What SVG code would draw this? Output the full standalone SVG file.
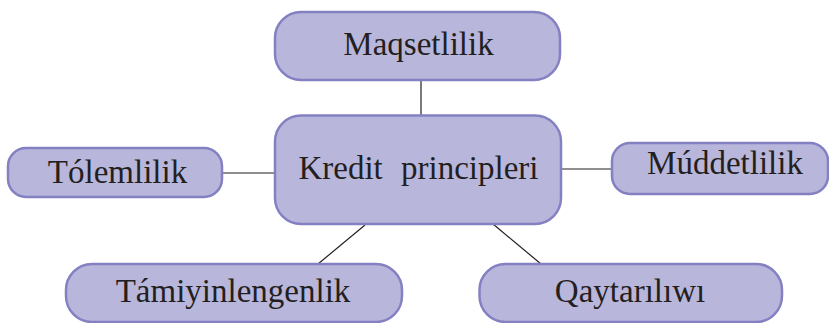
<svg xmlns="http://www.w3.org/2000/svg" width="829" height="323" viewBox="0 0 829 323">
<style>
.box{fill:#b9b6db;stroke:#8481c3;stroke-width:2.5}
.lbl{font-family:"Liberation Serif","Times New Roman",serif;font-size:33px;fill:#231f20;text-anchor:middle}
.edge{stroke:#231f20;stroke-width:1.2;fill:none}
</style>
<rect width="829" height="323" fill="#ffffff"/>
<g id="connectors">
<line class="edge" x1="421" y1="80" x2="421" y2="116"/>
<line class="edge" x1="222" y1="173" x2="276" y2="173"/>
<line class="edge" x1="560" y1="169" x2="613" y2="169"/>
<line class="edge" x1="365" y1="225" x2="318" y2="264"/>
<line class="edge" x1="493" y1="224" x2="541" y2="264"/>
</g>
<g id="node-center">
<rect class="box" x="275" y="115.5" width="286" height="108.5" rx="26"/>
<text class="lbl" x="418.5" y="179" word-spacing="10">Kredit principleri</text>
</g>
<g id="node-maqsetlilik">
<rect class="box" x="275" y="12" width="285" height="68" rx="26"/>
<text class="lbl" x="418.5" y="55">Maqsetlilik</text>
</g>
<g id="node-tolemlilik">
<rect class="box" x="8" y="148" width="214" height="49" rx="18"/>
<text class="lbl" x="117.5" y="183">Tólemlilik</text>
</g>
<g id="node-muddetlilik">
<rect class="box" x="612" y="143" width="216" height="51" rx="18"/>
<text class="lbl" x="725" y="174">Múddetlilik</text>
</g>
<g id="node-tamiyinlengenlik">
<rect class="box" x="66" y="264" width="336" height="58" rx="26"/>
<text class="lbl" x="233" y="302">Támiyinlengenlik</text>
</g>
<g id="node-qaytariliwi">
<rect class="box" x="479.5" y="264" width="302.5" height="58" rx="26"/>
<text class="lbl" x="630" y="302">Qaytarılıwı</text>
</g>
</svg>
